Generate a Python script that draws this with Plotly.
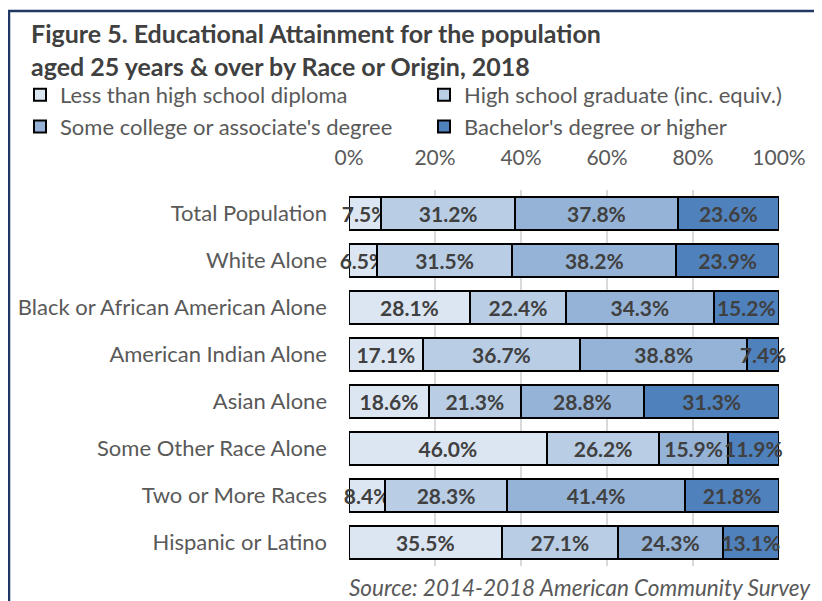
import plotly.graph_objects as go

categories = ["Total Population", "White Alone", "Black or African American Alone",
              "American Indian Alone", "Asian Alone", "Some Other Race Alone",
              "Two or More Races", "Hispanic or Latino"]
less_hs = [7.5, 6.5, 28.1, 17.1, 18.6, 46.0, 8.4, 35.5]
hs_grad = [31.2, 31.5, 22.4, 36.7, 21.3, 26.2, 28.3, 27.1]
some_col = [37.8, 38.2, 34.3, 38.8, 28.8, 15.9, 41.4, 24.3]
bachelor = [23.6, 23.9, 15.2, 7.4, 31.3, 11.9, 21.8, 13.1]

series_names = ["Less than high school diploma", "High school graduate (inc. equiv.)",
                "Some college or associate's degree", "Bachelor's degree or higher"]
series_vals = [less_hs, hs_grad, some_col, bachelor]
colors = ["#DCE6F2", "#B9CDE5", "#95B3D7", "#4F81BD"]
legend_ids = ["legend", "legend2", "legend", "legend2"]

FONT = "Lato"
OFF = 8  # default page body margin
W, H = 822 - OFF, 601 - OFF
# plot area in screen pixels: x 349..779, y 190..566
L, R, T, B = 349 - OFF, 822 - 779, 190 - OFF, 601 - 566
pw, ph = W - L - R, H - T - B

def px_x(p):  # screen pixel -> paper x
    return (p - OFF - L) / pw

def px_y(p):  # screen pixel -> paper y
    return (H - B - (p - OFF)) / ph

fig = go.Figure()
for name, vals, col, lg in zip(series_names, series_vals, colors, legend_ids):
    fig.add_trace(go.Bar(
        y=categories, x=vals, name=name, orientation="h", legend=lg,
        marker=dict(color=col, line=dict(color="#000000", width=2)),
        text=[f"{v:.1f}%" for v in vals],
        textposition="inside", insidetextanchor="middle",
        constraintext="none", textangle=0, cliponaxis=False,
        textfont=dict(family=FONT, size=21, color="#404040", weight="bold"),
        hoverinfo="skip",
    ))

legend_common = dict(orientation="v", xanchor="left", yanchor="top", traceorder="normal",
                     font=dict(family=FONT, size=22, color="#595959"),
                     bgcolor="rgba(0,0,0,0)", borderwidth=0, tracegroupgap=0)

fig.update_layout(
    width=W, height=H,
    margin=dict(l=L, r=R, t=T, b=B, autoexpand=False),
    barmode="stack", barnorm="percent", bargap=0.28,
    plot_bgcolor="white", paper_bgcolor="white",
    font=dict(family=FONT, size=22, color="#595959"),
    xaxis=dict(side="top", range=[0, 100.01], tickvals=[0, 20, 40, 60, 80, 100],
               ticktext=["0%", "20%", "40%", "60%", "80%", "100%"],
               showgrid=True, gridcolor="#D9D9D9", gridwidth=2,
               zeroline=False, showline=False, ticklabelstandoff=20,
               tickfont=dict(family=FONT, size=21, color="#595959")),
    yaxis=dict(autorange="reversed", showgrid=False, zeroline=False,
               ticklabelstandoff=21,
               tickfont=dict(family=FONT, size=22, color="#595959")),
    showlegend=True,
    legend=dict(x=px_x(20), y=px_y(74), **legend_common),
    legend2=dict(x=px_x(424), y=px_y(74), **legend_common),
    shapes=[dict(type="rect", xref="paper", yref="paper",
                 x0=px_x(9), x1=px_x(820), y0=px_y(650), y1=px_y(11),
                 line=dict(color="#1F3864", width=2.5), fillcolor="rgba(0,0,0,0)",
                 layer="above")],
    annotations=[
        dict(text="<b>Figure 5. Educational Attainment for the population</b>",
             xref="paper", yref="paper", x=px_x(29), y=px_y(33), xanchor="left", yanchor="middle",
             showarrow=False, font=dict(family=FONT, size=25, color="#404040")),
        dict(text="<b>aged 25 years & over by Race or Origin, 2018</b>",
             xref="paper", yref="paper", x=px_x(29), y=px_y(66), xanchor="left", yanchor="middle",
             showarrow=False, font=dict(family=FONT, size=25, color="#404040")),
        dict(text="<i>Source: 2014-2018 American Community Survey</i>",
             xref="paper", yref="paper", x=px_x(813), y=px_y(587), xanchor="right", yanchor="middle",
             showarrow=False, font=dict(family=FONT, size=22.5, color="#595959")),
    ],
)

fig.write_html("out.html")
